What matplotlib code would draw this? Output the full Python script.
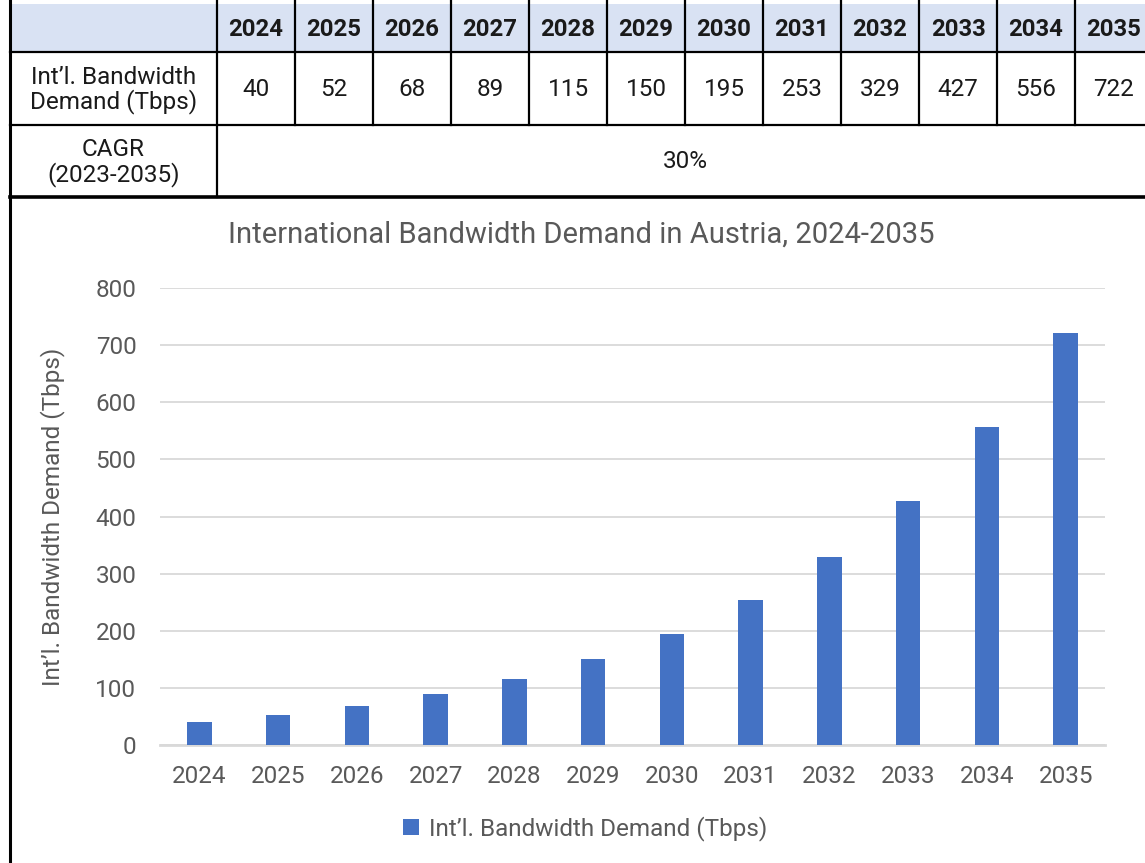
import numpy as np
import matplotlib.pyplot as plt
from matplotlib.patches import Rectangle

plt.rcParams["font.family"] = ["Roboto", "DejaVu Sans"]

years = ["2024", "2025", "2026", "2027", "2028", "2029", "2030",
         "2031", "2032", "2033", "2034", "2035"]
demand = [40, 52, 68, 89, 115, 150, 195, 253, 329, 427, 556, 722]
cagr_label = "CAGR\n(2023-2035)"
cagr_value = "30%"
row_label = "Int\u2019l. Bandwidth\nDemand (Tbps)"
title = "International Bandwidth Demand in Austria, 2024-2035"

W, H = 1145, 863
fig = plt.figure(figsize=(W / 100, H / 100), dpi=100)

# background layer in pixel coords for the table and frame
bg = fig.add_axes([0, 0, 1, 1], zorder=-1)
bg.set_xlim(0, W)
bg.set_ylim(H, 0)
bg.axis("off")

x0, x1, cw = 10, 217, 78.0
y_rows = [4, 52, 125, 197]
x_right = x1 + cw * len(years)
lc = "black"
lw = 1.6
tc = "#1a1a1a"

bg.add_patch(Rectangle((x0, y_rows[0]), x_right - x0, y_rows[1] - y_rows[0],
                       facecolor="#D9E2F3", edgecolor="none"))
# horizontal lines
for y in y_rows[1:3]:
    bg.plot([x0, x_right], [y, y], color=lc, lw=lw)
bg.plot([x0, x_right], [y_rows[3], y_rows[3]], color=lc, lw=2.6)
# vertical lines
bg.plot([x0, x0], [0, H], color=lc, lw=2.2)
bg.plot([x1, x1], [0, y_rows[3]], color=lc, lw=lw)
for i in range(1, len(years) + 1):
    xv = x1 + cw * i
    bg.plot([xv, xv], [0, y_rows[2]], color=lc, lw=lw)

for i, (yr, v) in enumerate(zip(years, demand)):
    cx = x1 + cw * (i + 0.5)
    bg.text(cx, (y_rows[0] + y_rows[1]) / 2 + 1, yr, ha="center", va="center",
            fontsize=17.2, fontweight="bold", color=tc)
    bg.text(cx, (y_rows[1] + y_rows[2]) / 2 + 1, str(v), ha="center", va="center",
            fontsize=17.5, color=tc)
bg.text((x0 + x1) / 2, (y_rows[1] + y_rows[2]) / 2 + 1.5, row_label, ha="center",
        va="center", fontsize=17.5, color=tc, linespacing=1.05)
bg.text((x0 + x1) / 2, (y_rows[2] + y_rows[3]) / 2 + 1.5, cagr_label, ha="center",
        va="center", fontsize=17.5, color=tc, linespacing=1.05)
bg.text((x1 + x_right) / 2, (y_rows[2] + y_rows[3]) / 2 + 1, cagr_value,
        ha="center", va="center", fontsize=17.5, color=tc)

# chart
ax = fig.add_axes([160 / W, (H - 745) / H, 945 / W, 457 / H])
x = np.arange(len(years))
ax.bar(x, demand, width=0.31, color="#4472C4", zorder=3,
       label="Int\u2019l. Bandwidth Demand (Tbps)")
ax.set_xlim(-0.5, len(years) - 0.5)
ax.set_ylim(0, 800)
ax.set_yticks(range(0, 801, 100))
ax.set_xticks(x)
ax.set_xticklabels(years)
ax.grid(axis="y", color="#D9D9D9", lw=1.3, zorder=0)
ax.set_axisbelow(True)
for s in ["top", "right", "left"]:
    ax.spines[s].set_visible(False)
ax.spines["bottom"].set_color("#D9D9D9")
ax.spines["bottom"].set_linewidth(2)
ax.tick_params(axis="both", length=0, labelsize=17.5, colors="#595959")
ax.tick_params(axis="y", pad=17)
ax.tick_params(axis="x", pad=14.5)
ax.set_ylabel("Int\u2019l. Bandwidth Demand (Tbps)", fontsize=17.5,
              color="#595959")
ax.yaxis.set_label_coords(-0.1, 0.5)

fig.text(581 / W, (H - 235) / H, title, ha="center", va="center",
         fontsize=21, color="#595959")

ax.legend(loc="center", bbox_to_anchor=(585 / W, (H - 829) / H),
          bbox_transform=fig.transFigure, frameon=False, fontsize=17.5,
          labelcolor="#595959", handlelength=0.65, handleheight=0.65,
          handletextpad=0.4)

fig.savefig("out.png", dpi=100)
